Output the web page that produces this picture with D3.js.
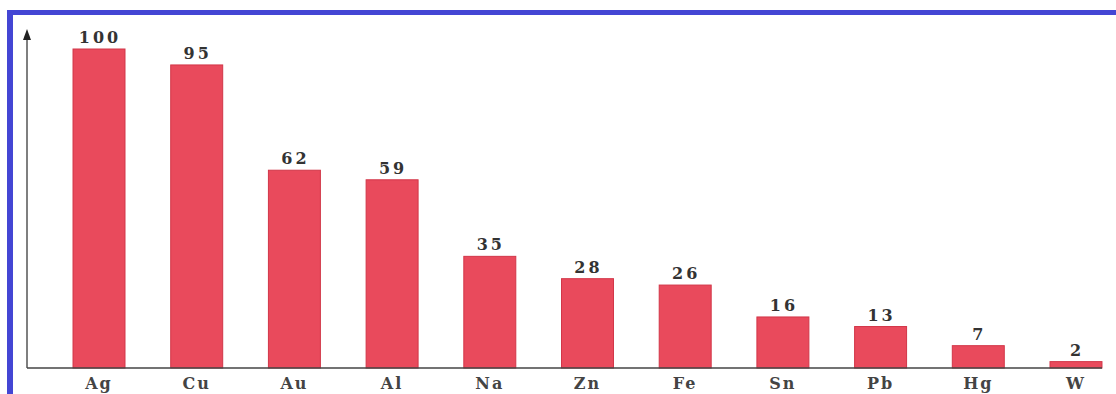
<!DOCTYPE html>
<html><head><meta charset="utf-8">
<script src="https://cdn.jsdelivr.net/npm/d3@7"></script>
<style>body{margin:0;background:#fff}svg{display:block}</style>
</head><body>
<svg id="c" width="1116" height="394"></svg>
<script>
const categories = ["Ag","Cu","Au","Al","Na","Zn","Fe","Sn","Pb","Hg","W"];
const values = [100,95,62,59,35,28,26,16,13,7,2];

const svg = d3.select("#c");
const baseY = 368, topY = 49;
const x = d3.scaleBand().domain(categories).range([27.3, 1147.7]).paddingInner(0.468).paddingOuter(0.468);
const y = d3.scaleLinear().domain([0, 100]).range([baseY, topY]);

// blue frame (top and left)
svg.append("rect").attr("x", 7).attr("y", 10).attr("width", 1109).attr("height", 5).attr("fill", "#4446d4");
svg.append("rect").attr("x", 7).attr("y", 10).attr("width", 6).attr("height", 384).attr("fill", "#4446d4");

// bars
svg.selectAll("rect.bar").data(values).join("rect").attr("class", "bar")
  .attr("x", (d, i) => x(categories[i]))
  .attr("width", x.bandwidth())
  .attr("y", d => y(d))
  .attr("height", d => baseY - y(d))
  .attr("fill", "#e94a5c")
  .attr("stroke", "#d23648").attr("stroke-width", 1);

// axes lines
svg.append("line").attr("x1", 27).attr("x2", 27).attr("y1", 36).attr("y2", baseY).attr("stroke", "#555").attr("stroke-width", 1.5);
svg.append("line").attr("x1", 27).attr("x2", 1102).attr("y1", baseY).attr("y2", baseY).attr("stroke", "#444").attr("stroke-width", 1.5);
svg.append("path").attr("d", "M27,29 L23,40 L31,40 Z").attr("fill", "#222");

// value labels
svg.selectAll("text.val").data(values).join("text").attr("class", "val")
  .attr("x", (d, i) => x(categories[i]) + x.bandwidth() / 2 + 1)
  .attr("y", d => y(d) - 6)
  .attr("text-anchor", "middle")
  .attr("font-family", "DejaVu Serif, serif").attr("font-weight", "bold").attr("font-size", 16)
  .attr("letter-spacing", 3)
  .attr("fill", "#333")
  .text(d => d);

// category labels
svg.selectAll("text.cat").data(categories).join("text").attr("class", "cat")
  .attr("x", d => x(d) + x.bandwidth() / 2)
  .attr("y", 389)
  .attr("text-anchor", "middle")
  .attr("font-family", "DejaVu Serif, serif").attr("font-weight", "bold").attr("font-size", 16)
  .attr("letter-spacing", 2)
  .attr("fill", "#444")
  .text(d => d);
</script>
</body></html>
